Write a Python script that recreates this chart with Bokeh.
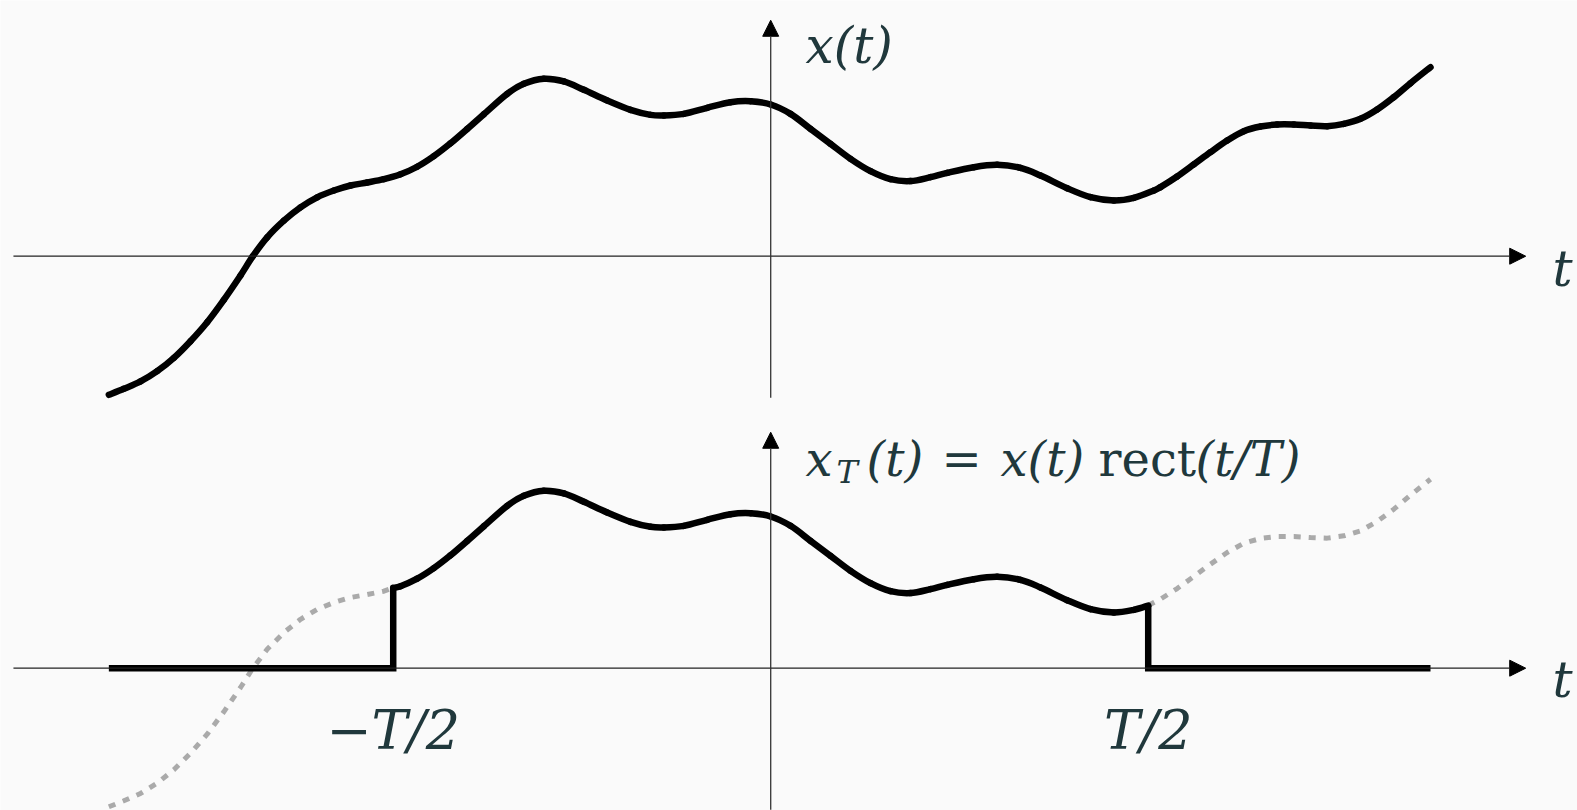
from bokeh.plotting import figure
from bokeh.models import Range1d, Arrow, NormalHead
from bokeh.core.properties import value
from bokeh.embed import file_html
from bokeh.resources import INLINE

# ---------------- data (t in units where T/2 = 1) ----------------
T = 2.0
t_vals = [-1.7533, -1.7136, -1.6694, -1.6253, -1.5811, -1.5370, -1.4928, -1.4487,
          -1.4045, -1.3718, -1.3339, -1.2897, -1.2456, -1.2014, -1.1573, -1.1131,
          -1.0690, -1.0248, -0.9807, -0.9365, -0.8924, -0.8482, -0.8041, -0.7599,
          -0.6981, -0.6540, -0.6010, -0.5480, -0.4950, -0.4332, -0.3714, -0.3184,
          -0.2831, -0.2301, -0.1683, -0.1065, -0.0535, 0.0000, 0.0525, 0.1054,
          0.1584, 0.2114, 0.2644, 0.3174, 0.3703, 0.4233, 0.4675, 0.5381,
          0.5999, 0.6617, 0.7147, 0.7853, 0.8472, 0.9090, 0.9619, 1.0149,
          1.0326, 1.0767, 1.1209, 1.1650, 1.2092, 1.2533, 1.2975, 1.3416,
          1.3858, 1.4299, 1.4741, 1.5182, 1.5624, 1.6065, 1.6507, 1.6948, 1.7478]
x_vals = [-0.3672, -0.3513, -0.3319, -0.3046, -0.2692, -0.2251, -0.1748, -0.1156,
          -0.0511, 0.0000, 0.0500, 0.0942, 0.1295, 0.1560, 0.1740, 0.1873,
          0.1952, 0.2040, 0.2170, 0.2370, 0.2650, 0.2990, 0.3370, 0.3760,
          0.4300, 0.4566, 0.4700, 0.4630, 0.4407, 0.4125, 0.3877, 0.3745,
          0.3727, 0.3771, 0.3930, 0.4080, 0.4107, 0.4019, 0.3771, 0.3374,
          0.2977, 0.2579, 0.2252, 0.2040, 0.1990, 0.2094, 0.2208, 0.2358,
          0.2420, 0.2341, 0.2138, 0.1802, 0.1564, 0.1476, 0.1546, 0.1740,
          0.1830, 0.2110, 0.2430, 0.2756, 0.3065, 0.3312, 0.3436, 0.3489,
          0.3489, 0.3462, 0.3445, 0.3506, 0.3639, 0.3886, 0.4213, 0.4584, 0.5007]
# signal values at the window edges -T/2 and +T/2
x_left_edge = 0.213
x_right_edge = 0.166

top_label = "x(t)"
axis_label = "t"
tick_labels = ["\u2212T/2", "T/2"]

# ---------------- layout ----------------
LOWER = -1.0914          # baseline of lower panel
AX_LO, AX_HI = -0.375, 0.625
AX_L, AX_R = -2.006, 2.0
TXT = "#20383c"
FONT = value("DejaVu Serif")
LW = 6.5

p = figure(width=1577, height=810,
           x_range=Range1d(-2.0403, 2.1372), y_range=Range1d(-1.4684, 0.6774),
           output_backend="svg", toolbar_location=None, min_border=0,
           x_axis_location=None, y_axis_location=None,
           background_fill_color="#fafafa", border_fill_color="#fafafa",
           outline_line_color=None)
p.grid.visible = False


def smooth(ts, xs, dy=0.0, **kw):
    """Draw a smooth curve through the given points (Catmull-Rom as Bezier segments)."""
    n = len(ts)
    x0, y0, x1, y1, cx0, cy0, cx1, cy1 = ([] for _ in range(8))
    for i in range(n - 1):
        a = max(i - 1, 0)
        d = min(i + 2, n - 1)
        x0.append(ts[i]); y0.append(xs[i] + dy)
        x1.append(ts[i + 1]); y1.append(xs[i + 1] + dy)
        cx0.append(ts[i] + (ts[i + 1] - ts[a]) / 6)
        cy0.append(xs[i] + dy + (xs[i + 1] - xs[a]) / 6)
        cx1.append(ts[i + 1] - (ts[d] - ts[i]) / 6)
        cy1.append(xs[i + 1] + dy - (xs[d] - xs[i]) / 6)
    p.bezier(x0=x0, y0=y0, x1=x1, y1=y1, cx0=cx0, cy0=cy0, cx1=cx1, cy1=cy1, **kw)


# axes with arrows
for b in (0.0, LOWER):
    p.add_layout(Arrow(end=NormalHead(size=16, fill_color="black", line_color="black", line_width=1),
                       x_start=AX_L, y_start=b, x_end=AX_R, y_end=b,
                       line_color="#222222", line_width=1.3))
    p.add_layout(Arrow(end=NormalHead(size=16, fill_color="black", line_color="black", line_width=1),
                       x_start=0.0, y_start=b + AX_LO, x_end=0.0, y_end=b + AX_HI,
                       line_color="#333333", line_width=1.3))

# top panel: full signal
smooth(t_vals, x_vals, line_color="black", line_width=LW, line_cap="round")

# lower panel: dotted remainder outside the window
half = T / 2
left_t = [t for t in t_vals if t < -half] + [-half]
left_x = [x for t, x in zip(t_vals, x_vals) if t < -half] + [x_left_edge]
right_t = [half] + [t for t in t_vals if t > half]
right_x = [x_right_edge] + [x for t, x in zip(t_vals, x_vals) if t > half]
for tt, xx in ((left_t, left_x), (right_t, right_x)):
    p.line(tt, [v + LOWER for v in xx], line_color="#aaaaaa", line_width=5,
           line_dash="7 8", line_cap="butt", line_join="round")

# lower panel: truncated signal
in_t = [-half] + [t for t in t_vals if -half < t < half] + [half]
in_x = [x_left_edge] + [x for t, x in zip(t_vals, x_vals) if -half < t < half] + [x_right_edge]
smooth(in_t, in_x, dy=LOWER, line_color="black", line_width=LW, line_cap="round")
p.line([t_vals[0], -half, -half], [LOWER, LOWER, LOWER + x_left_edge],
       line_color="black", line_width=LW, line_cap="butt", line_join="miter")
p.line([half, half, t_vals[-1]], [LOWER + x_right_edge, LOWER, LOWER],
       line_color="black", line_width=LW, line_cap="butt", line_join="miter")

# ---------------- texts ----------------
def txt(xs, ys, texts, style="italic", size="48px", align="left"):
    p.text(x=xs, y=ys, text=texts, text_font=FONT, text_font_style=style,
           text_font_size=size, text_color=TXT, text_align=align,
           text_baseline="alphabetic")

txt([0.0922], [0.5581], [top_label], size="50px")
txt([2.0710, 2.0710], [-0.0326, LOWER - 0.0326], [axis_label, axis_label], size="50px")
txt([-half, half], [LOWER - 0.165, LOWER - 0.165], tick_labels, size="54px", align="center")

# lower label: x_T(t) = x(t) rect(t/T)
yb = LOWER + 0.5529
txt([0.0922], [yb], ["x"])
txt([0.1743], [yb - 0.0337], ["T"], size="32px")
txt([0.2538], [yb], ["(t)"])
txt([0.4524], [yb], ["="], style="normal")
txt([0.6088], [yb], ["x(t)"])
txt([0.8684], [yb], ["rect"], style="normal")
txt([1.1253], [yb], ["(t/T)"])

open("out.html", "w").write(file_html(p, INLINE))
